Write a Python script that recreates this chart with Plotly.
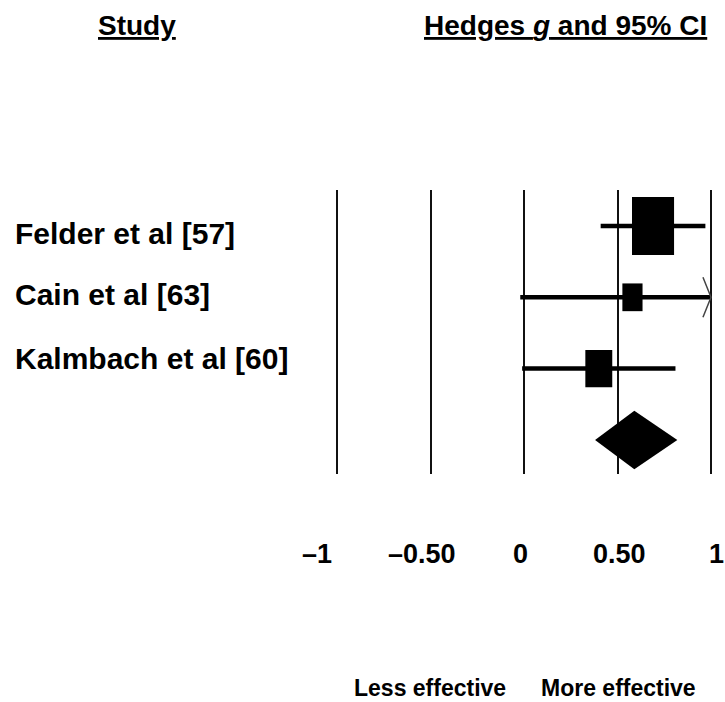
import plotly.graph_objects as go

# --- data -------------------------------------------------------------
studies = ["Felder et al [57]", "Cain et al [63]", "Kalmbach et al [60]"]
hedges_g = [0.69, 0.58, 0.40]
ci_low = [0.41, -0.02, -0.01]
ci_high = [0.97, 1.20, 0.81]
weights = [61, 14, 25]          # relative study weight (%)

pooled_g = 0.59
pooled_low = 0.38
pooled_high = 0.82

tick_vals = [-1, -0.5, 0, 0.5, 1]
tick_text = ["–1", "–0.50", "0", "0.50", "1"]

# --- styling ----------------------------------------------------------
W, H = 725, 702
FONT = "Liberation Sans, Arial, sans-serif"
X_CLIP = 1.0                     # CIs beyond this are truncated with an arrow
BOX_X = 0.0288                   # box width per sqrt(weight), x units
BOX_Y = 0.104                    # box height per sqrt(weight), row units
DIAMOND_HALF_H = 0.41
PLOT_TOP, PLOT_BOTTOM = 190, 474  # vertical extent of the reference lines (px)
LABEL_SHIFT = [-7, 3, 10]        # vertical nudge of study labels (px, up positive)
TICK_SHIFT = [-20, -9, -4, 2, 5]

fig = go.Figure()

summary_row = len(studies)

for i, (g, lo, hi, w) in enumerate(zip(hedges_g, ci_low, ci_high, weights)):
    hi_draw = min(hi, X_CLIP)
    # confidence interval whisker
    fig.add_trace(go.Scatter(
        x=[lo, hi_draw], y=[i, i], mode="lines",
        line=dict(color="black", width=4.5), hoverinfo="skip", showlegend=False))
    if hi > X_CLIP:
        fig.add_trace(go.Scatter(
            x=[X_CLIP - 0.043, X_CLIP, X_CLIP - 0.043], y=[i - 0.28, i, i + 0.28],
            mode="lines", line=dict(color="#444", width=1.5),
            hoverinfo="skip", showlegend=False))
    # weighted box
    hw = BOX_X * w ** 0.5 / 2
    hh = BOX_Y * w ** 0.5 / 2
    fig.add_trace(go.Scatter(
        x=[g - hw, g + hw, g + hw, g - hw, g - hw],
        y=[i - hh, i - hh, i + hh, i + hh, i - hh],
        mode="lines", fill="toself", fillcolor="black",
        line=dict(color="black", width=0), hoverinfo="skip", showlegend=False))

# pooled estimate diamond
fig.add_trace(go.Scatter(
    x=[pooled_low, pooled_g, pooled_high, pooled_g, pooled_low],
    y=[summary_row, summary_row - DIAMOND_HALF_H, summary_row,
       summary_row + DIAMOND_HALF_H, summary_row],
    mode="lines", fill="toself", fillcolor="black",
    line=dict(color="black", width=0), hoverinfo="skip", showlegend=False))

# axis geometry: x = 0 at 524 px, 187 px per unit; rows 71.3 px apart from 226 px
px_per_x, x0_px = 187.0, 524.0
row0_px, px_per_row = 226.0, 71.3
x_range = [-x0_px / px_per_x, (W - x0_px) / px_per_x]
y_range = [(PLOT_BOTTOM - row0_px) / px_per_row, (PLOT_TOP - row0_px) / px_per_row]


def paper_y(py):
    return 1 - py / H


annotations = []
for i, name in enumerate(studies):
    annotations.append(dict(
        x=13 / W, xref="paper", y=i, yref="y", text=f"<b>{name}</b>",
        showarrow=False, xanchor="left", yanchor="middle", yshift=LABEL_SHIFT[i],
        font=dict(family=FONT, size=30, color="black")))

for v, t, s in zip(tick_vals, tick_text, TICK_SHIFT):
    annotations.append(dict(
        x=v, xref="x", y=paper_y(554), yref="paper", text=f"<b>{t}</b>",
        showarrow=False, xanchor="center", yanchor="middle", xshift=s,
        font=dict(family=FONT, size=27, color="black")))

annotations += [
    dict(x=137 / W, y=paper_y(26), xref="paper", yref="paper",
         text="<b><u>Study</u></b>", showarrow=False,
         xanchor="center", yanchor="middle",
         font=dict(family=FONT, size=28, color="black")),
    dict(x=565 / W, y=paper_y(26), xref="paper", yref="paper",
         text="<b><u>Hedges <i>g</i> and 95% CI</u></b>", showarrow=False,
         xanchor="center", yanchor="middle",
         font=dict(family=FONT, size=28, color="black")),
    dict(x=430 / W, y=paper_y(688), xref="paper", yref="paper",
         text="<b>Less effective</b>", showarrow=False,
         xanchor="center", yanchor="middle",
         font=dict(family=FONT, size=23, color="black")),
    dict(x=618 / W, y=paper_y(688), xref="paper", yref="paper",
         text="<b>More effective</b>", showarrow=False,
         xanchor="center", yanchor="middle",
         font=dict(family=FONT, size=23, color="black")),
]

fig.update_layout(
    width=W, height=H,
    margin=dict(l=0, r=0, t=0, b=0),
    paper_bgcolor="white", plot_bgcolor="white",
    showlegend=False,
    annotations=annotations,
    xaxis=dict(range=x_range, tickvals=tick_vals, showticklabels=False,
               showgrid=True, gridcolor="#111", gridwidth=2,
               zeroline=False, showline=False, ticks="", fixedrange=True),
    yaxis=dict(range=y_range, domain=[1 - PLOT_BOTTOM / H, 1 - PLOT_TOP / H],
               visible=False, showgrid=False, zeroline=False, fixedrange=True),
)

fig.write_html("out.html")
